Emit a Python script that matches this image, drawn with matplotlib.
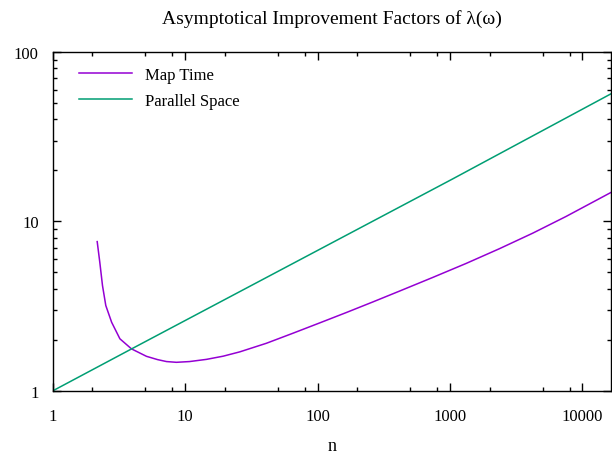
import matplotlib
matplotlib.use("Agg")
import matplotlib.pyplot as plt
from matplotlib.ticker import FixedLocator, FixedFormatter, LogLocator, NullFormatter

# values (log-log axes)
map_time_n = [2.17, 2.27, 2.38, 2.52, 2.79, 3.22, 3.94, 5.11, 6.2, 7.24, 8.6,
              10.8, 14.5, 19.4, 25.9, 41.1, 65.3, 104, 165, 262, 416, 741,
              1325, 2362, 4214, 7520, 16384]
map_time_y = [7.6, 5.75, 4.18, 3.19, 2.54, 2.03, 1.77, 1.60, 1.53, 1.49, 1.475,
              1.49, 1.535, 1.603, 1.70, 1.91, 2.19, 2.52, 2.90, 3.35, 3.88, 4.67,
              5.65, 6.90, 8.52, 10.69, 14.8]

par_space_n = [1, 4, 1047, 16384]
par_space_y = [1, 1.78, 17.8, 56.5]

x_ticks = [1, 10, 100, 1000, 10000]
x_labels = ["1", "10", "100", "1000", "10000"]
y_ticks = [1, 10, 100]
y_labels = ["1", "10", "100"]

plt.rcParams["font.family"] = ["Liberation Serif", "DejaVu Serif"]

fig = plt.figure(figsize=(6.12, 4.6), dpi=100)
ax = fig.add_axes([0.086, 0.148, 0.912, 0.737])

ax.plot(map_time_n, map_time_y, color="#9400D3", lw=1.1, label="Map Time")
ax.plot(par_space_n, par_space_y, color="#009E73", lw=1.1, label="Parallel Space")

ax.set_xscale("log")
ax.set_yscale("log")
ax.set_xlim(1, 16384)
ax.set_ylim(1, 100)

ax.xaxis.set_major_locator(FixedLocator(x_ticks))
ax.xaxis.set_major_formatter(FixedFormatter(x_labels))
ax.yaxis.set_major_locator(FixedLocator(y_ticks))
ax.yaxis.set_major_formatter(FixedFormatter(y_labels))
# x minor tics only at 2, 5, 8 like the reference; y gets the full set
ax.xaxis.set_minor_locator(LogLocator(base=10, subs=[2, 5, 8]))
ax.yaxis.set_minor_locator(LogLocator(base=10, subs=range(2, 10)))
ax.xaxis.set_minor_formatter(NullFormatter())
ax.yaxis.set_minor_formatter(NullFormatter())

ax.tick_params(which="both", direction="in", top=True, right=True, labelsize=12)
ax.tick_params(which="major", length=6, width=1)
ax.tick_params(which="minor", length=3, width=1)
ax.tick_params(axis="x", pad=12)
ax.tick_params(axis="y", pad=10)
for s in ax.spines.values():
    s.set_linewidth(1.0)

ax.set_title("Asymptotical Improvement Factors of λ(ω)", fontsize=14, pad=21)
ax.set_xlabel("n", fontsize=13, labelpad=10)

ax.legend(loc="upper left", frameon=False, fontsize=12, handlelength=3.2,
          labelspacing=0.6, borderaxespad=0.5, bbox_to_anchor=(0.02, 1.0))

fig.savefig("out.png", dpi=100)
